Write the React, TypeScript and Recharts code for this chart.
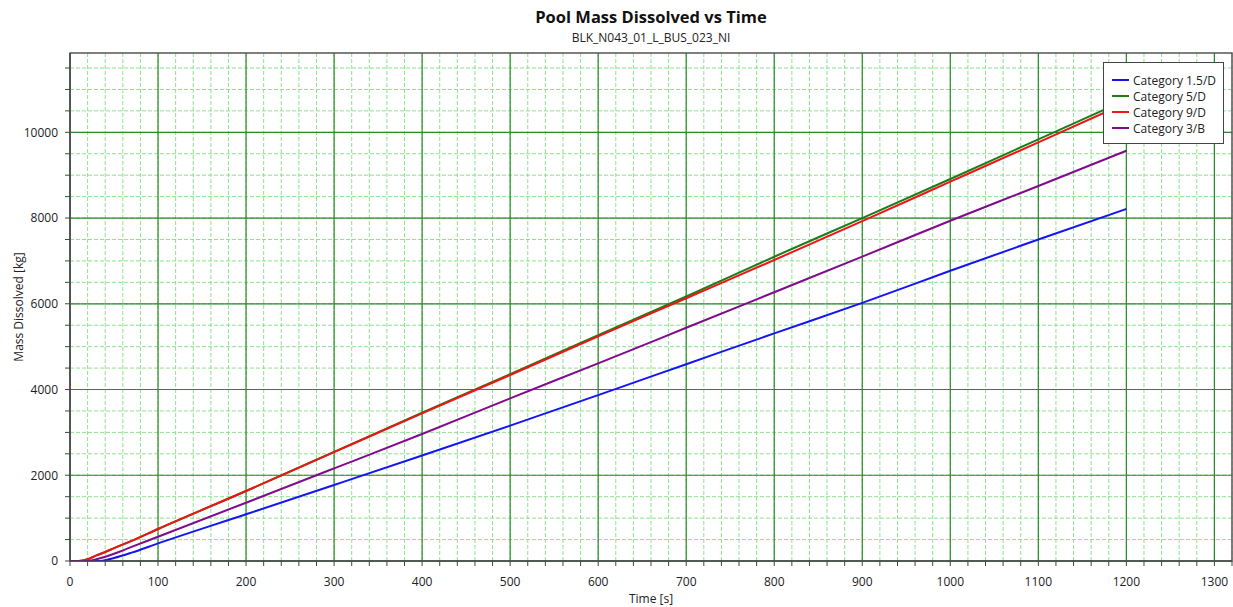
import React from 'react';
import { LineChart, Line, XAxis, YAxis, CartesianGrid, ReferenceArea } from 'recharts';

const times = [0, 10, 20, 30, 40, 50, 70, 100, 200, 300, 400, 500, 600, 700, 800, 900, 1000, 1100, 1200];
const cat15D = [0, 0, 0, 0, 20, 70, 195, 410, 1090, 1773, 2460, 3157, 3870, 4590, 5310, 6020, 6770, 7500, 8211];
const cat5D = [0, 0, 40, 130, 210, 300, 470, 746, 1633, 2545, 3460, 4360, 5270, 6170, 7098, 8000, 8911, 9837, 10760];
const cat9D = [0, 0, 40, 130, 210, 300, 470, 746, 1633, 2540, 3445, 4339, 5240, 6130, 7021, 7930, 8848, 9767, 10690];
const cat3B = [0, 0, 0, 40, 100, 170, 330, 567, 1360, 2160, 2963, 3795, 4610, 5440, 6270, 7100, 7938, 8747, 9571];

const seriesNames = ['Category 1.5/D', 'Category 5/D', 'Category 9/D', 'Category 3/B'];
const seriesKeys = ['c15D', 'c5D', 'c9D', 'c3B'];
const seriesColors = ['#1414f5', '#1a7d1a', '#f01414', '#800c8c'];

const xMajor = [0, 100, 200, 300, 400, 500, 600, 700, 800, 900, 1000, 1100, 1200, 1300];
const xMinor: number[] = [];
for (let v = 0; v <= 1320; v += 20) xMinor.push(v);
const yMajor = [0, 2000, 4000, 6000, 8000, 10000];
const yMinor: number[] = [];
for (let v = 0; v <= 11500; v += 500) yMinor.push(v);

const X_MAX = 1320;
const Y_MAX = 11850;

const data = times.map((t, i) => ({
  t,
  c15D: cat15D[i],
  c5D: cat5D[i],
  c9D: cat9D[i],
  c3B: cat3B[i],
}));

const FONT = '"Open Sans", "Noto Sans", sans-serif';

const LegendBox = () => (
  <div
    style={{
      position: 'absolute',
      left: 1103,
      top: 62,
      width: 121,
      height: 82,
      boxSizing: 'border-box',
      border: '1.5px solid #444',
      background: '#fff',
      padding: '9px 4px 0 8px',
      fontFamily: FONT,
      fontSize: 12,
      color: '#222',
    }}
  >
    {seriesNames.map((n, i) => (
      <div key={n} style={{ display: 'flex', alignItems: 'center', height: 16 }}>
        <div style={{ width: 17, height: 2.5, background: seriesColors[i], marginRight: 4 }} />
        <span style={{ whiteSpace: 'nowrap' }}>{n}</span>
      </div>
    ))}
  </div>
);

const YLabel = (props: any) => {
  const vb = props.viewBox || {};
  const cx = 18;
  const cy = vb.y + vb.height / 2;
  return (
    <text x={cx} y={cy} transform={`rotate(-90 ${cx} ${cy})`} textAnchor="middle" dominantBaseline="central" fontSize={12} fill="#222" fontFamily={FONT}>
      Mass Dissolved [kg]
    </text>
  );
};

export default function App() {
  return (
    <div style={{ position: 'absolute', left: 0, top: 0, width: 1233, height: 607, background: '#fff' }}>
      <div style={{ position: 'absolute', left: 0, top: 0 }}>
        <LineChart width={1233} height={607} data={data} margin={{ top: 53, right: 1, bottom: 0, left: 0 }}>
          <CartesianGrid stroke="#8fe08f" strokeDasharray="4 2" verticalValues={xMinor} horizontalValues={yMinor} />
          <CartesianGrid stroke="#2a8a2a" strokeWidth={1.2} verticalValues={xMajor} horizontalValues={yMajor} />
          <XAxis
            dataKey="t"
            type="number"
            domain={[0, X_MAX]}
            ticks={xMinor}
            interval={0}
            tickFormatter={(v: number) => (v % 100 === 0 ? String(v) : '')}
            height={46}
            tickSize={5}
            tickMargin={11}
            stroke="#444"
            tick={{ fill: '#222', fontSize: 12, fontFamily: FONT }}
            label={{ value: 'Time [s]', position: 'insideBottom', offset: 4, fontSize: 12, fill: '#222', fontFamily: FONT }}
            allowDataOverflow
          />
          <YAxis
            type="number"
            domain={[0, Y_MAX]}
            ticks={yMinor}
            interval={0}
            tickFormatter={(v: number) => (v % 2000 === 0 ? String(v) : '')}
            width={70}
            tickSize={5}
            tickMargin={7}
            stroke="#444"
            tick={{ fill: '#222', fontSize: 12, fontFamily: FONT }}
            label={<YLabel />}
            allowDataOverflow
          />
          <ReferenceArea x1={0} x2={X_MAX} y1={0} y2={Y_MAX} fill="none" stroke="#555" strokeWidth={1.5} ifOverflow="visible" />
          {seriesKeys.map((k, i) => (
            <Line
              key={k}
              type="monotone"
              dataKey={k}
              name={seriesNames[i]}
              stroke={seriesColors[i]}
              strokeWidth={2}
              dot={false}
              isAnimationActive={false}
            />
          ))}
        </LineChart>
      </div>
      <div style={{ position: 'absolute', left: 70, width: 1162, top: 5, textAlign: 'center', fontFamily: FONT, fontWeight: 700, fontSize: 16.5, color: '#111' }}>
        Pool Mass Dissolved vs Time
      </div>
      <div style={{ position: 'absolute', left: 70, width: 1162, top: 29, textAlign: 'center', fontFamily: FONT, fontSize: 12, color: '#222' }}>
        BLK_N043_01_L_BUS_023_NI
      </div>
      <LegendBox />
    </div>
  );
}
